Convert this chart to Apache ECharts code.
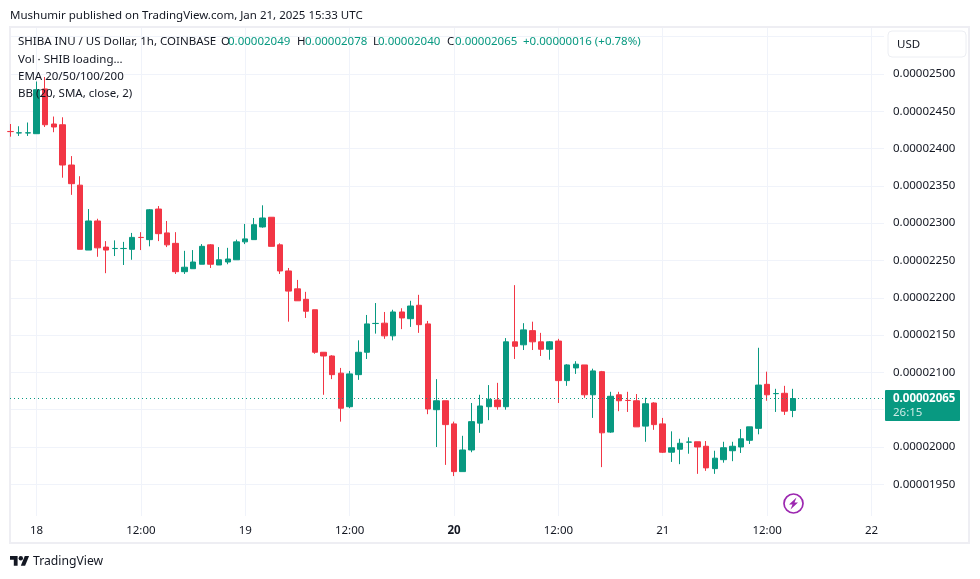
<!DOCTYPE html>
<html>
<head>
<meta charset="utf-8">
<title>SHIBA INU / US Dollar</title>
<script src="https://cdn.jsdelivr.net/npm/echarts@6/dist/echarts.min.js"></script>
<style>
  html, body { margin: 0; padding: 0; background: #fff; }
  #chart { width: 980px; height: 579px; }
</style>
</head>
<body>
<div id="chart"></div>
<script>
// prices in units of 0.00000001, one candle per hour, first one is Jan 17 21:00
const opens = [2423, 2421, 2421, 2420, 2480, 2433, 2432, 2378, 2351, 2264, 2303, 2268, 2266, 2266, 2265, 2281,
  2278, 2319, 2287, 2273, 2235, 2239, 2245, 2271, 2244, 2248, 2251, 2275, 2278, 2295, 2308, 2271,
  2236, 2212, 2198, 2184, 2127, 2122, 2099, 2054, 2097, 2127, 2165.5, 2166, 2149, 2181, 2172, 2190,
  2165, 2050, 2062, 2031, 1967, 1996, 2032, 2054, 2063, 2054, 2141, 2137, 2156, 2141, 2131, 2142,
  2089, 2106, 2110, 2070, 2101, 2020, 2070, 2062.5, 2062, 2028, 2059, 2031, 1993, 1997, 2006.5, 2007,
  2001, 1971, 1983, 1995, 2000, 2009, 2025, 2084, 2071.5, 2072, 2049];
const closes = [2422.8, 2421.2, 2421.2, 2479, 2432, 2429, 2378, 2353, 2265, 2303, 2267, 2264, 2266.2, 2266.2, 2281, 2280.8,
  2318, 2286, 2271, 2235, 2241, 2248, 2269, 2245, 2251, 2252, 2275, 2279, 2298, 2307, 2269, 2236,
  2209, 2196, 2182, 2127, 2122, 2097, 2052, 2098, 2127, 2165, 2165.7, 2149, 2181, 2173, 2189, 2164,
  2051, 2062, 2030, 1967, 1996, 2034, 2055, 2064, 2054, 2141, 2135, 2157, 2141, 2131, 2141, 2089,
  2110, 2111, 2070, 2102, 2019, 2068, 2062, 2062.3, 2027, 2058, 2030, 1993, 1999, 2005, 2006.7, 2000,
  1972, 1985, 1999, 2001, 2011, 2027, 2083, 2070, 2071.7, 2048, 2065];
const lows = [2416, 2417, 2417, 2420, 2429, 2422, 2361, 2338, 2265, 2264, 2255, 2233, 2256, 2244, 2251, 2264,
  2269, 2276, 2268, 2232, 2232, 2239, 2245, 2240, 2244, 2245, 2251, 2272, 2278, 2294, 2269, 2232,
  2168, 2196, 2173, 2125, 2070, 2091, 2034, 2052, 2090, 2118, 2152, 2145, 2143, 2158, 2161, 2153,
  2044, 2000, 1976, 1961, 1967, 1993, 2019, 2036, 2050, 2050, 2118, 2130, 2130, 2122, 2117, 2059,
  2082, 2098, 2066, 2039, 1973, 2019, 2048, 2047, 2027, 2007, 2023, 1992, 1980, 1977, 1991, 1964,
  1968, 1964, 1979, 1981, 1992, 2004, 2017, 2062, 2047, 2043, 2040];
const highs = [2433, 2430, 2435, 2490, 2496, 2443, 2442, 2390, 2363, 2319, 2306, 2276, 2277, 2275, 2287, 2288,
  2319, 2323, 2303, 2288, 2263, 2264, 2272, 2272, 2268, 2267, 2278, 2299, 2307, 2324, 2308, 2273,
  2240, 2224, 2208, 2184, 2127, 2123, 2106, 2102, 2143, 2177, 2193, 2181, 2184, 2186, 2196, 2204,
  2169, 2091, 2062, 2034, 2015, 2059, 2070, 2083, 2086, 2146, 2217, 2166, 2168, 2153, 2142, 2145,
  2111, 2115, 2110, 2105, 2102, 2074, 2074, 2074, 2071, 2066, 2060, 2039, 2021, 2011, 2013, 2007,
  2008, 1995, 2007, 2007, 2024, 2027, 2133, 2101, 2078, 2082, 2078];
const hours = opens.map((_, i) => i - 3); // hours after Jan 18 00:00

const priceTicks = [1950, 2000, 2050, 2100, 2150, 2200, 2250, 2300, 2350, 2400, 2450, 2500];
const gridPrices = priceTicks.concat([2550]);
const timeTicks = [0, 12, 24, 36, 48, 60, 72, 84, 96];
const timeLabels = ["18", "12:00", "19", "12:00", "20", "12:00", "21", "12:00", "22"];
const lastPrice = 2065;

const UP = "#089981";
const DOWN = "#f23645";
const TEXT = "#131722";
const FONT = "'Noto Sans', sans-serif";
const SIZE = 11.5;

const fmtPrice = (v) => (v / 1e8).toFixed(8);

const chart = echarts.init(document.getElementById("chart"));

function txt(text, x, y, fill, size, weight) {
  return {
    type: "text",
    z: 20,
    style: {
      text, x, y, fill,
      font: (weight || "normal") + " " + (size || SIZE) + "px " + FONT,
      verticalAlign: "middle",
    },
  };
}

function poly(points, fill) {
  return { type: "polygon", z: 21, shape: { points }, style: { fill } };
}

const chrome = [
  // frame round the chart
  { type: "rect", z: 1, shape: { x: 10, y: 27, width: 959, height: 516 },
    style: { fill: "none", stroke: "#eeeef3", lineWidth: 2 } },
  txt("Mushumir published on TradingView.com, Jan 21, 2025 15:33 UTC", 10, 16, TEXT),
  txt("SHIBA INU / US Dollar, 1h, COINBASE", 18, 42, TEXT),
  txt("O", 221, 42, TEXT),
  txt("0.00002049", 228, 42, UP),
  txt("H", 297, 42, TEXT),
  txt("0.00002078", 305, 42, UP),
  txt("L", 373, 42, TEXT),
  txt("0.00002040", 378, 42, UP),
  txt("C", 447, 42, TEXT),
  txt("0.00002065", 455, 42, UP),
  txt("+0.00000016 (+0.78%)", 523, 42, UP),
  txt("Vol · SHIB loading...", 18, 60, TEXT),
  txt("EMA 20/50/100/200", 18, 77, TEXT),
  txt("BB (20, SMA, close, 2)", 18, 94, TEXT),
  // USD button
  { type: "rect", z: 20, shape: { x: 888, y: 31, width: 78, height: 26, r: 4 },
    style: { fill: "#fff", stroke: "#eceef3", lineWidth: 1 } },
  txt("USD", 897, 45, TEXT),
  // lightning badge
  { type: "circle", z: 20, shape: { cx: 793.5, cy: 503.5, r: 9.5 },
    style: { fill: "#fff", stroke: "#9c27b0", lineWidth: 1.7 } },
  poly([[796.5, 497.5], [789, 504.5], [792.5, 504.5], [790.5, 509.5], [798, 502.5], [794.5, 502.5]], "#9c27b0"),
  // TradingView logo
  poly([[10, 556], [17.6, 556], [17.6, 565.7], [13.8, 565.7], [13.8, 559.8], [10, 559.8]], TEXT),
  poly([[24.8, 556], [29.1, 556], [25.1, 565.7], [20.8, 565.7]], TEXT),
  { type: "circle", z: 21, shape: { cx: 20.8, cy: 558.2, r: 2.2 }, style: { fill: TEXT } },
  txt("TradingView", 33, 561.5, TEXT, 12.2),
];

chart.setOption({
  animation: false,
  backgroundColor: "#fff",
  grid: { left: 10, right: 96, top: 28, bottom: 63 },
  xAxis: {
    type: "value",
    min: -3.047,
    max: 97.44,
    axisLine: { show: false },
    axisTick: { show: false, customValues: timeTicks },
    splitLine: { show: true, lineStyle: { color: "#f0f3fa", width: 1 } },
    axisLabel: {
      customValues: timeTicks,
      margin: 9,
      color: TEXT,
      fontFamily: FONT,
      fontSize: SIZE,
      formatter: (v) => {
        const label = timeLabels[timeTicks.indexOf(v)];
        return label === "20" ? "{b|" + label + "}" : label;
      },
      rich: { b: { fontWeight: "bold", color: TEXT, fontFamily: FONT, fontSize: SIZE } },
    },
  },
  yAxis: {
    type: "value",
    position: "right",
    min: 1907.5,
    max: 2561.7,
    axisLine: { show: false },
    axisTick: { show: false, customValues: gridPrices },
    splitLine: { show: true, lineStyle: { color: "#f0f3fa", width: 1 } },
    axisLabel: {
      customValues: priceTicks,
      margin: 9,
      color: TEXT,
      fontFamily: FONT,
      fontSize: SIZE,
      formatter: fmtPrice,
    },
  },
  series: [
    {
      type: "candlestick",
      barWidth: 6,
      data: hours.map((h, i) => [h, opens[i], closes[i], lows[i], highs[i]]),
      itemStyle: {
        color: UP,
        color0: DOWN,
        borderColor: UP,
        borderColor0: DOWN,
        borderWidth: 1,
      },
      markLine: {
        silent: true,
        symbol: "none",
        animation: false,
        label: { show: false },
        lineStyle: { color: UP, type: [1, 3], width: 1 },
        data: [{ yAxis: lastPrice }],
      },
    },
  ],
  graphic: chrome,
});

// last price tag sits on the right scale
const tagY = chart.convertToPixel({ yAxisIndex: 0 }, lastPrice);
chart.setOption({
  graphic: chrome.concat([
    { type: "rect", z: 22, shape: { x: 885, y: tagY - 8.5, width: 75, height: 31, r: 1 },
      style: { fill: UP } },
    Object.assign(txt(fmtPrice(lastPrice), 893, tagY, "#fff", SIZE, "bold"), { z: 23 }),
    Object.assign(txt("26:15", 893, tagY + 14, "rgba(255,255,255,0.8)"), { z: 23 }),
  ]),
});
</script>
</body>
</html>
